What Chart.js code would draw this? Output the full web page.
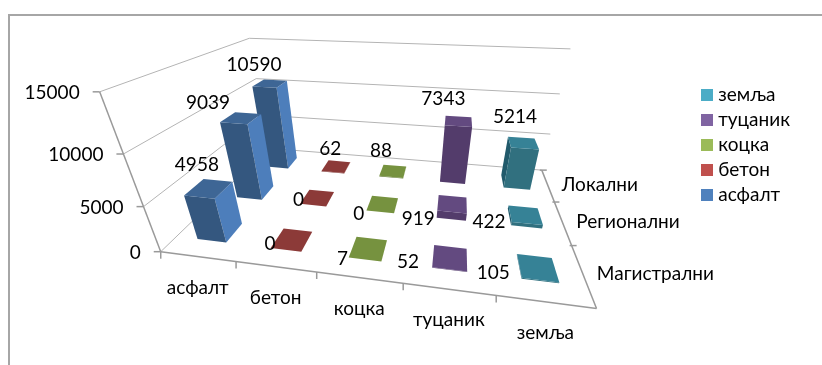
<!DOCTYPE html>
<html>
<head>
<meta charset="utf-8">
<style>
  html, body { margin: 0; padding: 0; background: #fff; }
  canvas { display: block; }
</style>
<script src="https://cdn.jsdelivr.net/npm/chart.js@4"></script>
</head>
<body>
<canvas id="chart" width="822" height="365"></canvas>
<script>
const categories = ['асфалт', 'бетон', 'коцка', 'туцаник', 'земља'];
const roads = ['Магистрални', 'Регионални', 'Локални'];
const zTicks = { min: 0, max: 15000, step: 5000 };

// one value per road class, same order as roads
const asfalt = [4958, 9039, 10590];
const beton = [0, 0, 62];
const kocka = [7, 0, 88];
const tucanik = [52, 919, 7343];
const zemlja = [105, 422, 5214];
const seriesValues = [asfalt, beton, kocka, tucanik, zemlja];

const legendColors = ['#4f81bd', '#c0504d', '#9bbb59', '#8064a2', '#4bacc6'];
const faceColors = [
  { front: '#34577f', right: '#4d7ebb', left: '#2a4767', top: '#3e6695' },
  { front: '#7a3230', right: '#b04a47', left: '#6a2b29', top: '#8c3a38' },
  { front: '#647c37', right: '#8daa52', left: '#566c2f', top: '#76923f' },
  { front: '#533c6b', right: '#75609a', left: '#46335c', top: '#634a80' },
  { front: '#31707f', right: '#3f93a8', left: '#215a6b', top: '#368296' },
];

// label shift from the top centre of each bar, by series then road class
const labelShift = [
  [[-12, -24], [-33, -15], [-16, -19]],
  [[-22, 4], [-19, 2], [-6, -18]],
  [[-26, 10], [-24, 10], [-12, -20]],
  [[-42, 4], [-34, 15], [-15, -22]],
  [[-44, 5], [-36, 7], [-8, -26]],
];

const font = '"Lato", "Open Sans", sans-serif';
const fontSize = 19;
const axisGray = '#9a9a9a';
const wallGray = '#b4b4b4';
const barRatio = 0.4;

// known places of the box edges in (across, depth, height) -> pixels,
// the camera matrix is fitted from them
const boxAnchors = [
  [0, 0, 0, 163, 251], [0.2, 0, 0, 237, 262], [0.4, 0, 0, 317, 272], [0.6, 0, 0, 403, 285],
  [0.8, 0, 0, 495, 297], [1, 0, 0, 595, 308], [1, 1 / 3, 0, 573, 244], [1, 2 / 3, 0, 555, 202],
  [1, 1, 0, 542, 170], [0, 1, 0, 266, 148], [0, 0, 1 / 3, 143, 207], [0, 0, 2 / 3, 123, 153],
  [0, 0, 1, 98, 91], [0, 1, 1, 251, 39], [1, 1, 1, 570, 49],
];

function fitCamera(anchors) {
  const n = 11;
  const A = Array.from({ length: n }, () => new Array(n + 1).fill(0));
  const addRow = (row, rhs) => {
    for (let i = 0; i < n; i++) {
      for (let j = 0; j < n; j++) A[i][j] += row[i] * row[j];
      A[i][n] += row[i] * rhs;
    }
  };
  anchors.forEach(([u, v, w, x, y]) => {
    addRow([u, v, w, 1, 0, 0, 0, 0, -x * u, -x * v, -x * w], x);
    addRow([0, 0, 0, 0, u, v, w, 1, -y * u, -y * v, -y * w], y);
  });
  for (let c = 0; c < n; c++) {
    let best = c;
    for (let r = c + 1; r < n; r++) if (Math.abs(A[r][c]) > Math.abs(A[best][c])) best = r;
    [A[c], A[best]] = [A[best], A[c]];
    for (let r = 0; r < n; r++) {
      if (r === c) continue;
      const f = A[r][c] / A[c][c];
      for (let k = c; k <= n; k++) A[r][k] -= f * A[c][k];
    }
  }
  return A.map((row, i) => row[n] / row[i]);
}

const cam = fitCamera(boxAnchors);
function project(u, v, w) {
  const d = cam[8] * u + cam[9] * v + cam[10] * w + 1;
  return [
    (cam[0] * u + cam[1] * v + cam[2] * w + cam[3]) / d,
    (cam[4] * u + cam[5] * v + cam[6] * w + cam[7]) / d,
  ];
}

// scale positions as 0..1 fractions, so the box can be projected
const uOf = (chart, label) => {
  const s = chart.scales.x;
  return (s.getPixelForValue(categories.indexOf(label)) - s.left) / s.width;
};
const vOf = (chart, label) => {
  const s = chart.scales.y;
  return (s.getPixelForValue(roads.indexOf(label)) - s.top) / s.height;
};
const wOf = (chart, value) => {
  const s = chart.scales.z;
  return (s.bottom - s.getPixelForValue(value)) / s.height;
};

function line(ctx, pts, color, width) {
  ctx.beginPath();
  pts.forEach((p, i) => (i ? ctx.lineTo(p[0], p[1]) : ctx.moveTo(p[0], p[1])));
  ctx.strokeStyle = color;
  ctx.lineWidth = width;
  ctx.stroke();
}

function face(ctx, pts, color) {
  // skip faces turned away from the viewer
  let area = 0;
  pts.forEach((p, i) => {
    const q = pts[(i + 1) % pts.length];
    area += p[0] * q[1] - q[0] * p[1];
  });
  if (area >= 0) return;
  ctx.beginPath();
  pts.forEach((p, i) => (i ? ctx.lineTo(p[0], p[1]) : ctx.moveTo(p[0], p[1])));
  ctx.closePath();
  ctx.fillStyle = color;
  ctx.fill();
}

function drawBar(ctx, u, v, w, colors) {
  const du = (barRatio / categories.length) / 2;
  const dv = (barRatio / roads.length) / 2;
  const p = (a, b, c) => project(u + a * du, v + b * dv, c);
  const fl = p(-1, -1, 0), fr = p(1, -1, 0), bl = p(-1, 1, 0), br = p(1, 1, 0);
  const tfl = p(-1, -1, w), tfr = p(1, -1, w), tbl = p(-1, 1, w), tbr = p(1, 1, w);
  face(ctx, [bl, fl, tfl, tbl], colors.left);
  face(ctx, [fr, br, tbr, tfr], colors.right);
  face(ctx, [fl, fr, tfr, tfl], colors.front);
  face(ctx, [tfl, tfr, tbr, tbl], colors.top);
}

const box3d = {
  id: 'box3d',
  beforeDatasetsDraw(chart) {
    const ctx = chart.ctx;
    ctx.save();
    ctx.lineCap = 'butt';

    // outer frame, open at the bottom and on the right
    line(ctx, [[9, 365], [9, 15], [822, 15]], '#a6a6a6', 2);

    // side and back wall gridlines
    chart.scales.z.ticks.forEach((t) => {
      const w = wOf(chart, t.value);
      line(ctx, [project(0, 0, w), project(0, 1, w), project(1, 1, w)], wallGray, 1);
    });

    // value axis
    line(ctx, [project(0, 0, 0), project(0, 0, 1)], axisGray, 1.5);
    ctx.fillStyle = '#000';
    ctx.font = `${fontSize}px ${font}`;
    ctx.textBaseline = 'middle';
    ctx.textAlign = 'right';
    chart.scales.z.ticks.forEach((t) => {
      const [x, y] = project(0, 0, wOf(chart, t.value));
      line(ctx, [[x - 7, y], [x, y]], axisGray, 1.5);
      ctx.fillStyle = '#000';
      ctx.fillText(String(t.value), x - 20, y + 1);
    });

    // category axis along the front edge
    line(ctx, [project(0, 0, 0), project(1, 0, 0)], axisGray, 1.5);
    ctx.textAlign = 'center';
    categories.forEach((name, i) => {
      const u = uOf(chart, name);
      const [x, y] = project(u, 0, 0);
      const [tx, ty] = project(i / categories.length, 0, 0);
      line(ctx, [[tx, ty], [tx, ty + 7]], axisGray, 1.5);
      ctx.fillStyle = '#000';
      ctx.fillText(name, x, y + 31);
    });

    // road class axis along the right edge
    line(ctx, [project(1, 0, 0), project(1, 1, 0)], axisGray, 1.5);
    ctx.textAlign = 'left';
    roads.forEach((name, j) => {
      const [x, y] = project(1, vOf(chart, name), 0);
      const [tx, ty] = project(1, (j + 1) / roads.length, 0);
      line(ctx, [[tx - 2, ty], [tx + 5, ty]], axisGray, 1.5);
      ctx.fillStyle = '#000';
      ctx.fillText(name, x + 14, y);
    });
    ctx.restore();
  },
  afterDatasetsDraw(chart) {
    const ctx = chart.ctx;
    ctx.save();
    // back row first so nearer bars cover the ones behind
    for (let j = roads.length - 1; j >= 0; j--) {
      chart.data.datasets.forEach((ds, i) => {
        const d = ds.data[j];
        drawBar(ctx, uOf(chart, d.x), vOf(chart, d.y), wOf(chart, d.v), faceColors[i]);
      });
    }
    ctx.font = `${fontSize}px ${font}`;
    ctx.fillStyle = '#000';
    ctx.textAlign = 'center';
    ctx.textBaseline = 'middle';
    chart.data.datasets.forEach((ds, i) => {
      ds.data.forEach((d, j) => {
        const [x, y] = project(uOf(chart, d.x), vOf(chart, d.y), wOf(chart, d.v));
        ctx.fillText(String(d.v), x + labelShift[i][j][0], y + labelShift[i][j][1]);
      });
    });
    ctx.restore();
  },
};

// square legend swatch; a canvas keeps the text close to it
function swatch(color) {
  const c = document.createElement('canvas');
  c.width = 12;
  c.height = 12;
  const g = c.getContext('2d');
  g.fillStyle = color;
  g.fillRect(0, 0, 12, 12);
  return c;
}

new Chart(document.getElementById('chart'), {
  type: 'scatter',
  data: {
    datasets: categories.map((name, i) => ({
      label: name,
      data: roads.map((road, j) => ({ x: name, y: road, v: seriesValues[i][j] })),
      backgroundColor: legendColors[i],
      pointStyle: swatch(legendColors[i]),
      pointRadius: 0,
    })),
  },
  options: {
    responsive: false,
    animation: false,
    layout: { padding: { right: 22, bottom: 76 } },
    scales: {
      x: { type: 'category', labels: categories, offset: true, display: false },
      y: { type: 'category', labels: roads, offset: true, display: false },
      z: { type: 'linear', axis: 'y', min: zTicks.min, max: zTicks.max, display: false, ticks: { stepSize: zTicks.step } },
    },
    plugins: {
      tooltip: { enabled: false },
      legend: {
        position: 'right',
        reverse: true,
        labels: {
          usePointStyle: true,
          pointStyleWidth: 4,
          boxHeight: 12,
          padding: 6,
          color: '#000',
          font: { family: font, size: fontSize },
        },
      },
    },
  },
  plugins: [box3d],
});
</script>
</body>
</html>
